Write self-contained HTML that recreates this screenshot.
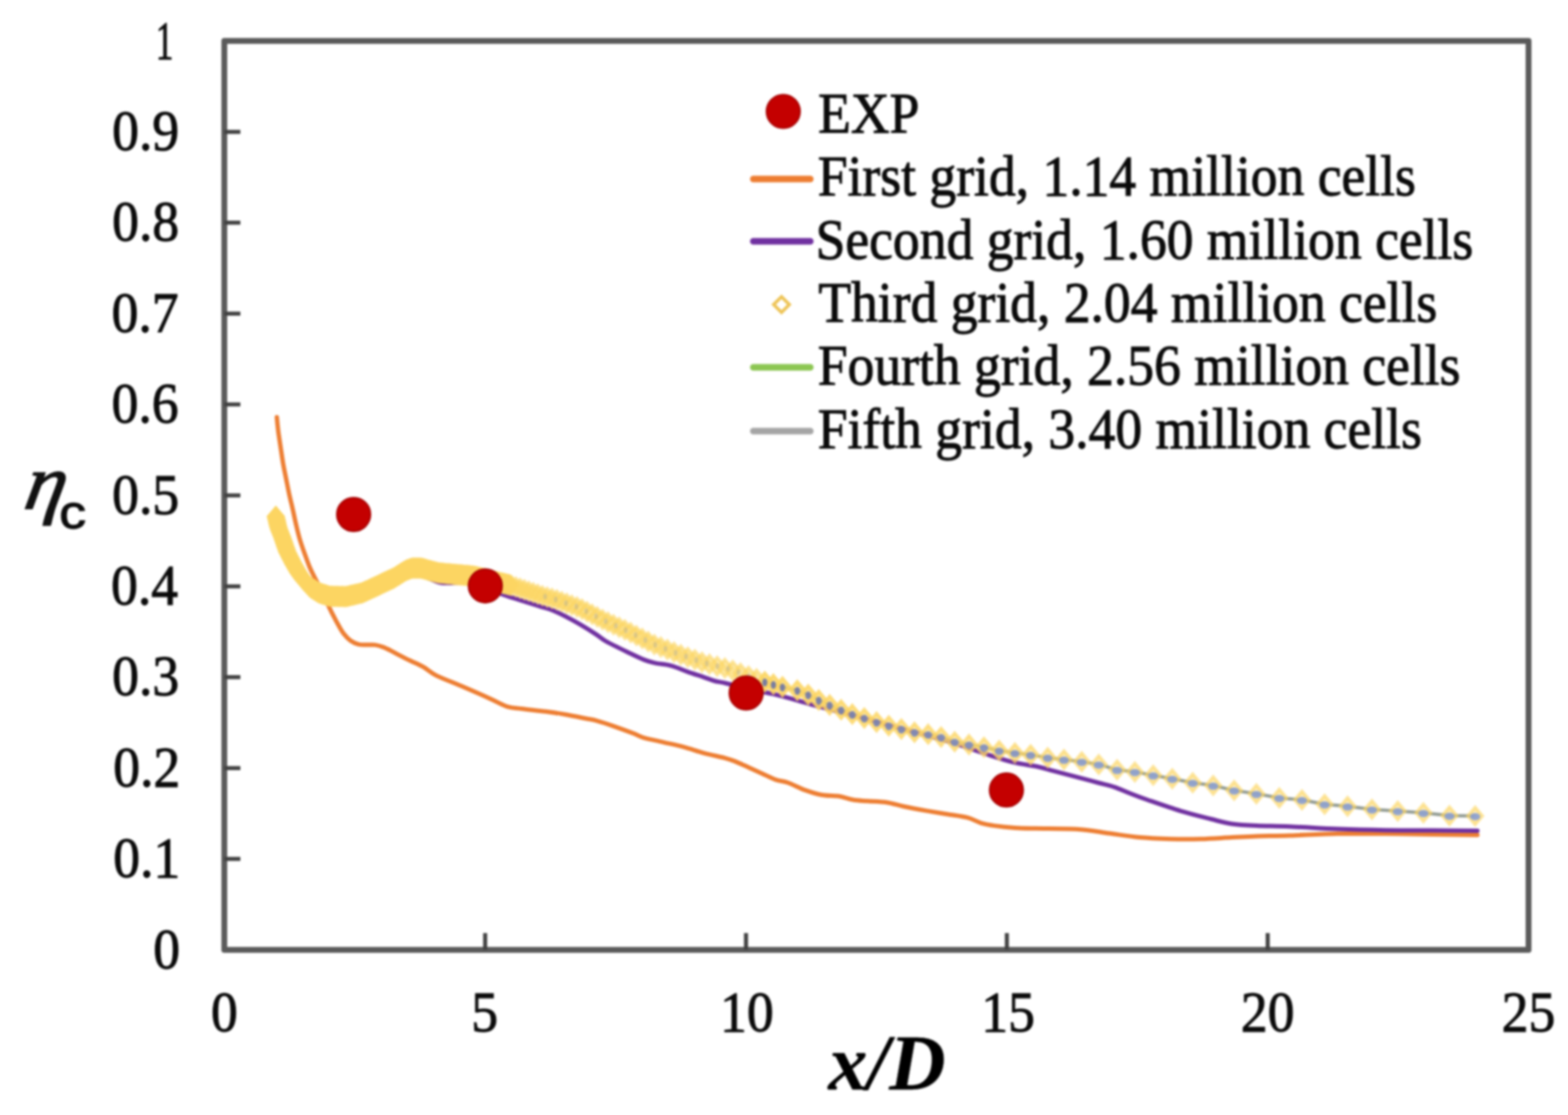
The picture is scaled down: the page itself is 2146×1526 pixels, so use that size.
<!DOCTYPE html>
<html><head><meta charset="utf-8"><title>chart</title><style>html,body{margin:0;padding:0;background:#fff}svg{display:block;filter:blur(1.8px)}</style></head><body>
<svg xmlns="http://www.w3.org/2000/svg" width="2146" height="1526" viewBox="0 0 2146 1526">
<rect width="2146" height="1526" fill="#fff"/>
<polyline points="1045.0,932.5 1080.0,942.5 1091.2,944.6 1106.1,950.6 1120.6,958.0 1135.5,964.7 1151.2,971.4 1166.5,977.4 1182.9,982.6 1199.7,988.2 1216.4,993.1 1233.6,997.6 1251.6,1002.1 1270.3,1004.9 1288.0,1008.6 1306.6,1015.1 1326.2,1018.9 1346.7,1022.6 1367.5,1027.3 1389.0,1030.5 1410.6,1033.1 1433.9,1036.9 1456.2,1039.6 1480.5,1042.4 1503.8,1046.2 1528.9,1053.6 1553.2,1056.4 1578.3,1061.1 1604.4,1065.7 1632.4,1071.3 1660.4,1075.1 1689.1,1081.8 1719.5,1086.4 1750.9,1092.0 1781.9,1094.8 1812.9,1100.8 1844.3,1103.6 1877.7,1107.8 1913.0,1110.0 1948.1,1112.4 1983.8,1116.2 2018.9,1116.8" fill="none" stroke="#939c93" stroke-width="4.5" stroke-linejoin="round"/>
<path d="M378.9 571.0C379.2 574.4 380.1 584.5 381.0 591.4C381.9 598.3 383.1 605.4 384.1 612.4C385.2 619.4 386.1 626.4 387.3 633.4C388.5 640.4 390.0 647.3 391.4 654.3C392.8 661.3 394.1 668.3 395.6 675.3C397.1 682.3 398.9 689.3 400.5 696.3C402.1 703.2 403.4 710.2 405.0 717.0C406.6 723.8 408.1 730.4 410.0 737.0C411.9 743.6 414.2 750.1 416.5 756.5C418.8 762.9 421.2 769.9 423.5 775.5C425.8 781.1 427.6 784.2 430.5 790.0C433.4 795.8 437.5 802.9 441.0 810.0C444.5 817.1 448.6 826.9 451.3 832.7C454.0 838.5 455.3 840.8 457.3 844.6C459.3 848.5 461.1 851.9 463.3 855.8C465.5 859.6 468.0 864.2 470.7 867.7C473.4 871.2 476.3 874.3 479.7 876.7C483.1 879.1 487.1 880.9 490.8 881.9C494.5 882.9 498.3 882.5 502.0 882.6C505.7 882.7 509.5 882.1 513.2 882.6C516.9 883.1 520.7 884.2 524.4 885.6C528.1 887.0 531.9 888.9 535.6 890.8C539.3 892.7 542.4 894.5 546.8 896.8C551.1 899.0 556.2 901.6 561.7 904.3C567.2 907.0 574.1 909.8 580.0 913.2C585.9 916.6 588.2 920.1 597.3 924.6C606.4 929.1 622.2 934.9 634.6 940.3C647.0 945.6 662.0 952.2 671.9 956.7C681.8 961.2 687.2 964.9 694.2 967.1C701.2 969.3 705.3 968.9 714.0 970.0C722.7 971.1 736.5 972.5 746.6 973.8C756.7 975.1 765.3 976.4 774.6 978.0C783.9 979.6 795.5 982.1 802.5 983.5C809.5 984.9 810.3 984.6 816.5 986.3C822.7 988.0 831.3 990.8 839.8 993.8C848.3 996.8 861.0 1001.4 867.7 1004.0C874.4 1006.6 873.3 1007.3 880.0 1009.3C886.7 1011.3 898.7 1013.6 908.0 1015.8C917.3 1018.0 926.6 1019.9 935.9 1022.4C945.2 1024.9 954.6 1028.3 963.9 1030.8C973.2 1033.3 984.8 1035.4 991.8 1037.3C998.8 1039.2 1000.3 1039.7 1005.8 1041.9C1011.2 1044.1 1018.3 1047.5 1024.5 1050.3C1030.7 1053.1 1036.9 1055.9 1043.1 1058.7C1049.3 1061.5 1055.8 1065.0 1061.7 1067.1C1067.6 1069.2 1071.9 1068.8 1078.6 1071.2C1085.3 1073.6 1094.1 1078.6 1101.9 1081.4C1109.7 1084.2 1117.4 1086.6 1125.2 1088.0C1133.0 1089.4 1141.5 1088.7 1148.5 1089.8C1155.5 1090.9 1161.0 1093.4 1167.2 1094.5C1173.4 1095.6 1178.0 1095.7 1185.8 1096.3C1193.6 1096.9 1205.2 1097.0 1213.8 1098.2C1222.3 1099.5 1228.1 1101.9 1237.1 1103.8C1246.1 1105.7 1258.2 1107.9 1268.0 1109.6C1277.8 1111.3 1286.6 1112.7 1295.9 1114.2C1305.2 1115.8 1316.1 1116.9 1323.9 1118.9C1331.7 1120.9 1336.3 1124.4 1342.5 1126.3C1348.7 1128.2 1353.4 1129.0 1361.2 1130.1C1369.0 1131.2 1379.8 1132.3 1389.1 1132.9C1398.4 1133.5 1402.6 1133.5 1417.1 1133.8C1431.6 1134.1 1459.1 1133.8 1475.9 1134.9C1492.7 1136.0 1503.9 1138.6 1517.9 1140.5C1531.9 1142.4 1545.8 1144.8 1559.8 1146.1C1573.8 1147.4 1587.7 1147.8 1601.7 1148.2C1615.7 1148.6 1629.7 1148.6 1643.7 1148.2C1657.7 1147.8 1672.9 1146.7 1685.6 1146.1C1698.3 1145.5 1706.7 1144.9 1720.0 1144.5C1733.3 1144.1 1746.8 1144.1 1765.2 1143.5C1783.6 1142.9 1808.8 1141.5 1830.5 1141.1C1852.2 1140.7 1874.0 1141.0 1895.7 1141.1C1917.5 1141.2 1940.0 1141.6 1961.0 1141.9C1982.0 1142.2 2011.8 1142.6 2022.0 1142.7" fill="none" stroke="#ED7D31" stroke-width="6" stroke-linejoin="round" stroke-linecap="round"/>
<path d="M540.0 793.0C545.0 791.7 559.5 784.2 570.0 785.0C580.5 785.8 591.3 795.5 603.0 797.5C614.7 799.5 629.8 795.9 640.0 797.0C650.2 798.1 655.4 801.0 664.0 804.0C672.6 807.0 679.8 810.7 691.9 814.9C704.0 819.1 725.8 825.6 736.7 829.1C747.6 832.6 749.5 832.4 757.5 835.8C765.5 839.1 774.9 844.0 784.4 849.2C793.9 854.4 806.8 862.4 814.2 867.1C821.7 871.8 821.7 873.3 829.1 877.5C836.5 881.7 850.2 888.3 858.9 892.5C867.6 896.7 875.1 900.4 881.3 902.9C887.5 905.4 890.0 906.0 896.2 907.4C902.4 908.8 911.1 909.1 918.6 911.1C926.1 913.1 933.5 916.7 941.0 919.3C948.5 921.9 957.1 924.7 963.3 926.8C969.5 928.9 973.2 930.6 978.2 932.0C983.2 933.4 986.1 933.3 993.2 935.0C1000.3 936.7 1010.3 939.5 1021.0 942.0C1031.7 944.5 1045.4 946.8 1057.5 949.7C1069.6 952.6 1084.8 956.8 1093.8 959.3C1102.8 961.8 1102.4 962.0 1111.8 964.5C1121.2 967.0 1135.3 970.6 1150.0 974.5C1164.7 978.4 1183.3 983.5 1200.0 988.0C1216.7 992.5 1233.3 996.9 1250.0 1001.5C1266.7 1006.1 1282.7 1010.2 1300.0 1015.5C1317.3 1020.8 1339.5 1028.8 1354.0 1033.5C1368.5 1038.2 1376.3 1040.8 1387.3 1043.4C1398.3 1046.0 1411.0 1047.3 1420.0 1049.2C1429.0 1051.1 1434.0 1053.0 1441.0 1054.8C1448.0 1056.6 1455.0 1058.4 1462.0 1060.3C1469.0 1062.2 1476.0 1064.0 1483.0 1065.9C1490.0 1067.8 1496.9 1069.6 1503.9 1071.5C1510.9 1073.4 1517.9 1074.8 1524.9 1077.1C1531.9 1079.4 1538.4 1082.6 1545.9 1085.5C1553.4 1088.4 1558.4 1090.5 1570.0 1094.5C1581.6 1098.5 1601.1 1105.4 1615.7 1109.8C1630.3 1114.2 1646.1 1118.0 1657.7 1121.0C1669.3 1124.0 1675.2 1126.0 1685.6 1127.5C1696.0 1129.0 1706.7 1129.5 1720.0 1130.1C1733.3 1130.7 1746.8 1130.5 1765.2 1131.3C1783.6 1132.0 1808.8 1133.8 1830.5 1134.6C1852.2 1135.4 1874.0 1135.9 1895.7 1136.2C1917.5 1136.5 1940.0 1136.4 1961.0 1136.5C1982.0 1136.6 2011.8 1136.9 2022.0 1137.0" fill="none" stroke="#7030A0" stroke-width="6" stroke-linejoin="round" stroke-linecap="round"/>
<path d="M377.5 695.2L387.5 707.0L377.5 718.8L367.5 707.0ZM378.2 698.2L388.2 709.9L378.2 721.7L368.2 709.9ZM378.9 701.1L388.9 712.8L378.9 724.6L368.9 712.8ZM379.5 704.0L389.5 715.8L379.5 727.5L369.5 715.8ZM380.2 706.9L390.2 718.7L380.2 730.4L370.2 718.7ZM380.9 709.9L390.9 721.6L380.9 733.4L370.9 721.6ZM381.9 712.7L391.9 724.4L381.9 736.2L371.9 724.4ZM383.0 715.5L393.0 727.2L383.0 739.0L373.0 727.2ZM384.1 718.3L394.1 730.0L384.1 741.8L374.1 730.0ZM385.2 721.1L395.2 732.8L385.2 744.6L375.2 732.8ZM386.3 723.9L396.3 735.6L386.3 747.4L376.3 735.6ZM387.3 726.7L397.3 738.4L387.3 750.2L377.3 738.4ZM388.3 729.5L398.3 741.3L388.3 753.0L378.3 741.3ZM389.2 732.4L399.2 744.1L389.2 755.9L379.2 744.1ZM390.2 735.2L400.2 746.9L390.2 758.7L380.2 746.9ZM391.2 738.0L401.2 749.8L391.2 761.5L381.2 749.8ZM392.2 740.9L402.2 752.6L392.2 764.4L382.2 752.6ZM393.2 743.7L403.2 755.4L393.2 767.2L383.2 755.4ZM394.6 746.4L404.6 758.1L394.6 769.9L384.6 758.1ZM395.9 749.0L405.9 760.8L395.9 772.5L385.9 760.8ZM397.3 751.7L407.3 763.5L397.3 775.2L387.3 763.5ZM398.6 754.4L408.6 766.1L398.6 777.9L388.6 766.1ZM400.0 757.1L410.0 768.8L400.0 780.6L390.0 768.8ZM401.4 759.7L411.4 771.4L401.4 783.2L391.4 771.4ZM402.9 762.3L412.9 774.1L402.9 785.8L392.9 774.1ZM404.4 764.9L414.4 776.7L404.4 788.4L394.4 776.7ZM405.9 767.5L415.9 779.3L405.9 791.0L395.9 779.3ZM407.4 770.1L417.4 781.9L407.4 793.6L397.4 781.9ZM409.0 772.6L419.0 784.4L409.0 796.1L399.0 784.4ZM410.7 775.1L420.7 786.9L410.7 798.6L400.7 786.9ZM412.4 777.6L422.4 789.3L412.4 801.1L402.4 789.3ZM414.1 780.0L424.1 791.8L414.1 803.5L404.1 791.8ZM416.0 782.4L426.0 794.1L416.0 805.9L406.0 794.1ZM418.0 784.6L428.0 796.3L418.0 808.1L408.0 796.3ZM420.0 786.8L430.0 798.5L420.0 810.3L410.0 798.5ZM422.1 789.0L432.1 800.8L422.1 812.5L412.1 800.8ZM424.1 791.2L434.1 803.0L424.1 814.7L414.1 803.0ZM426.4 793.1L436.4 804.9L426.4 816.6L416.4 804.9ZM428.9 794.7L438.9 806.5L428.9 818.2L418.9 806.5ZM431.5 796.3L441.5 808.0L431.5 819.8L421.5 808.0ZM434.0 797.9L444.0 809.6L434.0 821.4L424.0 809.6ZM436.6 799.5L446.6 811.2L436.6 823.0L426.6 811.2ZM439.4 800.5L449.4 812.2L439.4 824.0L429.4 812.2ZM442.2 801.4L452.2 813.1L442.2 824.9L432.2 813.1ZM445.1 802.3L455.1 814.0L445.1 825.8L435.1 814.0ZM448.0 803.2L458.0 814.9L448.0 826.7L438.0 814.9ZM450.8 804.1L460.8 815.8L450.8 827.6L440.8 815.8ZM453.8 804.3L463.8 816.1L453.8 827.8L443.8 816.1ZM456.8 804.4L466.8 816.1L456.8 827.9L446.8 816.1ZM459.8 804.4L469.8 816.2L459.8 827.9L449.8 816.2ZM462.8 804.5L472.8 816.3L462.8 828.0L452.8 816.3ZM465.8 804.6L475.8 816.3L465.8 828.1L455.8 816.3ZM468.8 804.6L478.8 816.4L468.8 828.1L458.8 816.4ZM471.8 804.7L481.8 816.5L471.8 828.2L461.8 816.5ZM474.8 804.5L484.8 816.3L474.8 828.0L464.8 816.3ZM477.7 803.8L487.7 815.6L477.7 827.3L467.7 815.6ZM480.6 803.1L490.6 814.9L480.6 826.6L470.6 814.9ZM483.5 802.5L493.5 814.2L483.5 826.0L473.5 814.2ZM486.4 801.8L496.4 813.5L486.4 825.3L476.4 813.5ZM489.4 801.1L499.4 812.8L489.4 824.6L479.4 812.8ZM492.3 800.4L502.3 812.2L492.3 823.9L482.3 812.2ZM495.2 799.7L505.2 811.5L495.2 823.2L485.2 811.5ZM498.0 798.6L508.0 810.4L498.0 822.1L488.0 810.4ZM500.7 797.3L510.7 809.1L500.7 820.8L490.7 809.1ZM503.4 796.1L513.4 807.8L503.4 819.6L493.4 807.8ZM506.1 794.8L516.1 806.5L506.1 818.3L496.1 806.5ZM508.8 793.5L518.8 805.3L508.8 817.0L498.8 805.3ZM511.6 792.2L521.6 804.0L511.6 815.7L501.6 804.0ZM514.3 791.0L524.3 802.7L514.3 814.5L504.3 802.7ZM517.0 789.7L527.0 801.4L517.0 813.2L507.0 801.4ZM519.7 788.4L529.7 800.1L519.7 811.9L509.7 800.1ZM522.4 787.1L532.4 798.9L522.4 810.6L512.4 798.9ZM525.1 785.8L535.1 797.6L525.1 809.3L515.1 797.6ZM527.8 784.5L537.8 796.3L527.8 808.0L517.8 796.3ZM530.5 783.2L540.5 795.0L530.5 806.7L520.5 795.0ZM533.2 782.0L543.2 793.7L533.2 805.5L523.2 793.7ZM536.0 780.7L546.0 792.4L536.0 804.2L526.0 792.4ZM538.7 779.4L548.7 791.1L538.7 802.9L528.7 791.1ZM541.3 777.9L551.3 789.7L541.3 801.4L531.3 789.7ZM543.8 776.3L553.8 788.1L543.8 799.8L533.8 788.1ZM546.4 774.7L556.4 786.5L546.4 798.2L536.4 786.5ZM548.9 773.1L558.9 784.9L548.9 796.6L538.9 784.9ZM551.4 771.5L561.4 783.3L551.4 795.0L541.4 783.3ZM554.0 769.9L564.0 781.7L554.0 793.4L544.0 781.7ZM556.6 768.6L566.6 780.4L556.6 792.1L546.6 780.4ZM559.4 767.5L569.4 779.3L559.4 791.0L549.4 779.3ZM562.2 766.4L572.2 778.2L562.2 789.9L552.2 778.2ZM565.1 765.8L575.1 777.5L565.1 789.2L555.1 777.5ZM568.1 765.8L578.1 777.5L568.1 789.2L558.1 777.5ZM571.1 765.8L581.1 777.5L571.1 789.2L561.1 777.5ZM574.1 765.8L584.1 777.5L574.1 789.2L564.1 777.5ZM577.1 766.0L587.1 777.8L577.1 789.5L567.1 777.8ZM580.0 766.8L590.0 778.6L580.0 790.3L570.0 778.6ZM582.9 767.6L592.9 779.4L582.9 791.1L572.9 779.4ZM585.8 768.4L595.8 780.1L585.8 791.9L575.8 780.1ZM588.7 769.2L598.7 780.9L588.7 792.7L578.7 780.9ZM591.5 770.0L601.5 781.7L591.5 793.5L581.5 781.7ZM594.4 770.7L604.4 782.5L594.4 794.2L584.4 782.5ZM597.3 771.5L607.3 783.3L597.3 795.0L587.3 783.3ZM600.2 772.3L610.2 784.0L600.2 795.8L590.2 784.0ZM603.2 772.5L613.2 784.3L603.2 796.0L593.2 784.3ZM606.2 772.8L616.2 784.6L606.2 796.3L596.2 784.6ZM609.2 773.1L619.2 784.8L609.2 796.6L599.2 784.8ZM612.2 773.4L622.2 785.1L612.2 796.9L602.2 785.1ZM615.2 773.6L625.2 785.4L615.2 797.1L605.2 785.4ZM618.2 773.9L628.2 785.7L618.2 797.4L608.2 785.7ZM621.2 774.2L631.2 785.9L621.2 797.7L611.2 785.9ZM624.1 774.5L634.1 786.2L624.1 798.0L614.1 786.2ZM627.1 774.7L637.1 786.5L627.1 798.2L617.1 786.5ZM630.1 775.0L640.1 786.8L630.1 798.5L620.1 786.8ZM633.1 775.3L643.1 787.0L633.1 798.8L623.1 787.0ZM636.1 775.6L646.1 787.3L636.1 799.1L626.1 787.3ZM639.1 775.8L649.1 787.6L639.1 799.3L629.1 787.6ZM642.1 776.1L652.1 787.9L642.1 799.6L632.1 787.9ZM645.1 776.4L655.1 788.1L645.1 799.9L635.1 788.1ZM648.0 776.7L658.0 788.4L648.0 800.2L638.0 788.4ZM651.0 777.2L661.0 789.0L651.0 800.7L641.0 789.0ZM653.9 778.0L663.9 789.7L653.9 801.5L643.9 789.7ZM656.8 778.7L666.8 790.4L656.8 802.2L646.8 790.4ZM659.7 779.4L669.7 791.2L659.7 802.9L649.7 791.2ZM662.6 780.1L672.6 791.9L662.6 803.6L652.6 791.9ZM665.5 780.8L675.5 792.6L665.5 804.3L655.5 792.6ZM668.5 781.6L678.5 793.3L668.5 805.1L658.5 793.3ZM671.4 782.3L681.4 794.0L671.4 805.8L661.4 794.0ZM674.3 783.0L684.3 794.8L674.3 806.5L664.3 794.8ZM677.2 783.7L687.2 795.5L677.2 807.2L667.2 795.5ZM680.1 784.4L690.1 796.2L680.1 807.9L670.1 796.2ZM683.0 785.2L693.0 796.9L683.0 808.7L673.0 796.9ZM685.9 785.9L695.9 797.6L685.9 809.4L675.9 797.6ZM688.8 786.6L698.8 798.4L688.8 810.1L678.8 798.4ZM691.7 787.3L701.7 799.1L691.7 810.8L681.7 799.1ZM694.7 788.0L704.7 799.8L694.7 811.5L684.7 799.8ZM697.6 788.8L707.6 800.5L697.6 812.3L687.6 800.5Z" fill="#FCD562" stroke="#FCD562" stroke-width="4.5"/>
<g fill="#FCD562" fill-opacity="0.5" stroke="#FCD562" stroke-width="4.5" stroke-opacity="0.6"><path d="M700.4 789.7L710.4 801.5L700.4 813.2L690.4 801.5Z"/><path d="M706.1 791.6L716.1 803.3L706.1 815.1L696.1 803.3Z"/><path d="M711.9 793.5L721.9 805.3L711.9 817.0L701.9 805.3Z"/><path d="M717.8 795.5L727.8 807.2L717.8 819.0L707.8 807.2Z"/><path d="M723.8 797.4L733.8 809.2L723.8 820.9L713.8 809.2Z"/><path d="M729.9 799.4L739.9 811.2L729.9 822.9L719.9 811.2Z"/><path d="M736.1 801.5L746.1 813.2L736.1 825.0L726.1 813.2Z"/><path d="M742.4 803.6L752.4 815.3L742.4 827.1L732.4 815.3Z"/><path d="M748.9 805.5L758.9 817.3L748.9 829.0L738.9 817.3Z"/><path d="M755.5 807.3L765.5 819.0L755.5 830.8L745.5 819.0Z"/><path d="M762.2 809.2L772.2 821.0L762.2 832.7L752.2 821.0Z"/><path d="M768.9 811.6L778.9 823.3L768.9 835.1L758.9 823.3Z"/><path d="M775.7 814.0L785.7 825.7L775.7 837.5L765.7 825.7Z"/><path d="M782.6 816.4L792.6 828.2L782.6 839.9L772.6 828.2Z"/><path d="M789.7 818.9L799.7 830.6L789.7 842.4L779.7 830.6Z"/><path d="M796.6 821.9L806.6 833.6L796.6 845.4L786.6 833.6Z"/><path d="M803.5 825.4L813.5 837.1L803.5 848.9L793.5 837.1Z"/><path d="M810.4 829.0L820.4 840.7L810.4 852.5L800.4 840.7Z"/><path d="M817.5 832.6L827.5 844.4L817.5 856.1L807.5 844.4Z"/><path d="M824.7 836.3L834.7 848.1L824.7 859.8L814.7 848.1Z"/><path d="M832.1 839.8L842.1 851.6L832.1 863.3L822.1 851.6Z"/><path d="M839.7 843.3L849.7 855.0L839.7 866.8L829.7 855.0Z"/><path d="M847.4 846.8L857.4 858.5L847.4 870.3L837.4 858.5Z"/><path d="M855.2 850.3L865.2 862.1L855.2 873.8L845.2 862.1Z"/><path d="M863.1 854.0L873.1 865.8L863.1 877.5L853.1 865.8Z"/><path d="M871.0 858.1L881.0 869.8L871.0 881.6L861.0 869.8Z"/><path d="M879.1 862.1L889.1 873.9L879.1 885.6L869.1 873.9Z"/><path d="M887.2 866.3L897.2 878.1L887.2 889.8L877.2 878.1Z"/><path d="M895.6 870.4L905.6 882.1L895.6 893.9L885.6 882.1Z"/><path d="M904.4 873.8L914.4 885.5L904.4 897.3L894.4 885.5Z"/><path d="M913.4 877.2L923.4 889.0L913.4 900.7L903.4 889.0Z"/><path d="M922.5 880.7L932.5 892.5L922.5 904.2L912.5 892.5Z"/><path d="M931.8 884.2L941.8 895.9L931.8 907.7L921.8 895.9Z"/><path d="M941.3 887.6L951.3 899.3L941.3 911.1L931.3 899.3Z"/><path d="M951.0 891.0L961.0 902.7L951.0 914.5L941.0 902.7Z"/><path d="M960.8 894.5L970.8 906.2L960.8 918.0L950.8 906.2Z"/><path d="M971.0 897.2L981.0 908.9L971.0 920.7L961.0 908.9Z"/><path d="M981.5 899.9L991.5 911.6L981.5 923.4L971.5 911.6Z"/><path d="M992.1 902.6L1002.1 914.4L992.1 926.1L982.1 914.4Z"/><path d="M1002.8 905.7L1012.8 917.4L1002.8 929.2L992.8 917.4Z"/><path d="M1013.5 909.5L1023.5 921.2L1013.5 933.0L1003.5 921.2Z"/><path d="M1024.4 913.4L1034.4 925.1L1024.4 936.9L1014.4 925.1Z"/><path d="M1035.4 917.3L1045.4 929.1L1035.4 940.8L1025.4 929.1Z"/></g>
<g fill="#FCD562" stroke="#FCD562" stroke-width="4.5"><path d="M1046.7 921.2L1056.7 933.0L1046.7 944.7L1036.7 933.0Z" fill-opacity="0.75" stroke-opacity="0.85"/><path d="M1058.5 924.6L1068.5 936.4L1058.5 948.1L1048.5 936.4Z" fill-opacity="0.74" stroke-opacity="0.84"/><path d="M1070.9 928.2L1080.9 939.9L1070.9 951.7L1060.9 939.9Z" fill-opacity="0.73" stroke-opacity="0.83"/><path d="M1091.2 932.9L1101.2 944.6L1091.2 956.4L1081.2 944.6Z" fill-opacity="0.72" stroke-opacity="0.82"/><path d="M1106.1 938.9L1116.1 950.6L1106.1 962.4L1096.1 950.6Z" fill-opacity="0.71" stroke-opacity="0.81"/><path d="M1120.6 946.2L1130.6 958.0L1120.6 969.8L1110.6 958.0Z" fill-opacity="0.70" stroke-opacity="0.81"/><path d="M1135.5 953.0L1145.5 964.7L1135.5 976.5L1125.5 964.7Z" fill-opacity="0.69" stroke-opacity="0.80"/><path d="M1151.2 959.6L1161.2 971.4L1151.2 983.1L1141.2 971.4Z" fill-opacity="0.68" stroke-opacity="0.79"/><path d="M1166.5 965.6L1176.5 977.4L1166.5 989.1L1156.5 977.4Z" fill-opacity="0.67" stroke-opacity="0.78"/><path d="M1182.9 970.9L1192.9 982.6L1182.9 994.4L1172.9 982.6Z" fill-opacity="0.66" stroke-opacity="0.77"/><path d="M1199.7 976.5L1209.7 988.2L1199.7 1000.0L1189.7 988.2Z" fill-opacity="0.65" stroke-opacity="0.76"/><path d="M1216.4 981.4L1226.4 993.1L1216.4 1004.9L1206.4 993.1Z" fill-opacity="0.63" stroke-opacity="0.75"/><path d="M1233.6 985.9L1243.6 997.6L1233.6 1009.4L1223.6 997.6Z" fill-opacity="0.62" stroke-opacity="0.74"/><path d="M1251.6 990.4L1261.6 1002.1L1251.6 1013.9L1241.6 1002.1Z" fill-opacity="0.61" stroke-opacity="0.73"/><path d="M1270.3 993.1L1280.3 1004.9L1270.3 1016.6L1260.3 1004.9Z" fill-opacity="0.60" stroke-opacity="0.72"/><path d="M1288.0 996.9L1298.0 1008.6L1288.0 1020.4L1278.0 1008.6Z" fill-opacity="0.59" stroke-opacity="0.72"/><path d="M1306.6 1003.4L1316.6 1015.1L1306.6 1026.8L1296.6 1015.1Z" fill-opacity="0.58" stroke-opacity="0.71"/><path d="M1326.2 1007.1L1336.2 1018.9L1326.2 1030.7L1316.2 1018.9Z" fill-opacity="0.56" stroke-opacity="0.69"/><path d="M1346.7 1010.9L1356.7 1022.6L1346.7 1034.3L1336.7 1022.6Z" fill-opacity="0.55" stroke-opacity="0.68"/><path d="M1367.5 1015.5L1377.5 1027.3L1367.5 1039.0L1357.5 1027.3Z" fill-opacity="0.54" stroke-opacity="0.67"/><path d="M1389.0 1018.8L1399.0 1030.5L1389.0 1042.2L1379.0 1030.5Z" fill-opacity="0.52" stroke-opacity="0.66"/><path d="M1410.6 1021.3L1420.6 1033.1L1410.6 1044.8L1400.6 1033.1Z" fill-opacity="0.51" stroke-opacity="0.65"/><path d="M1433.9 1025.2L1443.9 1036.9L1433.9 1048.7L1423.9 1036.9Z" fill-opacity="0.49" stroke-opacity="0.64"/><path d="M1456.2 1027.8L1466.2 1039.6L1456.2 1051.3L1446.2 1039.6Z" fill-opacity="0.48" stroke-opacity="0.62"/><path d="M1480.5 1030.7L1490.5 1042.4L1480.5 1054.2L1470.5 1042.4Z" fill-opacity="0.46" stroke-opacity="0.61"/><path d="M1503.8 1034.5L1513.8 1046.2L1503.8 1058.0L1493.8 1046.2Z" fill-opacity="0.45" stroke-opacity="0.60"/><path d="M1528.9 1041.8L1538.9 1053.6L1528.9 1065.3L1518.9 1053.6Z" fill-opacity="0.45" stroke-opacity="0.60"/><path d="M1553.2 1044.7L1563.2 1056.4L1553.2 1068.2L1543.2 1056.4Z" fill-opacity="0.45" stroke-opacity="0.60"/><path d="M1578.3 1049.3L1588.3 1061.1L1578.3 1072.8L1568.3 1061.1Z" fill-opacity="0.45" stroke-opacity="0.60"/><path d="M1604.4 1054.0L1614.4 1065.7L1604.4 1077.5L1594.4 1065.7Z" fill-opacity="0.45" stroke-opacity="0.60"/><path d="M1632.4 1059.5L1642.4 1071.3L1632.4 1083.0L1622.4 1071.3Z" fill-opacity="0.45" stroke-opacity="0.60"/><path d="M1660.4 1063.3L1670.4 1075.1L1660.4 1086.8L1650.4 1075.1Z" fill-opacity="0.45" stroke-opacity="0.60"/><path d="M1689.1 1070.0L1699.1 1081.8L1689.1 1093.5L1679.1 1081.8Z" fill-opacity="0.45" stroke-opacity="0.60"/><path d="M1719.5 1074.7L1729.5 1086.4L1719.5 1098.2L1709.5 1086.4Z" fill-opacity="0.45" stroke-opacity="0.60"/><path d="M1750.9 1080.2L1760.9 1092.0L1750.9 1103.8L1740.9 1092.0Z" fill-opacity="0.45" stroke-opacity="0.60"/><path d="M1781.9 1083.0L1791.9 1094.8L1781.9 1106.5L1771.9 1094.8Z" fill-opacity="0.45" stroke-opacity="0.60"/><path d="M1812.9 1089.0L1822.9 1100.8L1812.9 1112.5L1802.9 1100.8Z" fill-opacity="0.45" stroke-opacity="0.60"/><path d="M1844.3 1091.8L1854.3 1103.6L1844.3 1115.3L1834.3 1103.6Z" fill-opacity="0.45" stroke-opacity="0.60"/><path d="M1877.7 1096.0L1887.7 1107.8L1877.7 1119.5L1867.7 1107.8Z" fill-opacity="0.45" stroke-opacity="0.60"/><path d="M1913.0 1098.2L1923.0 1110.0L1913.0 1121.8L1903.0 1110.0Z" fill-opacity="0.45" stroke-opacity="0.60"/><path d="M1948.1 1100.7L1958.1 1112.4L1948.1 1124.2L1938.1 1112.4Z" fill-opacity="0.45" stroke-opacity="0.60"/><path d="M1983.8 1104.5L1993.8 1116.2L1983.8 1128.0L1973.8 1116.2Z" fill-opacity="0.45" stroke-opacity="0.60"/><path d="M2018.9 1105.0L2028.9 1116.8L2018.9 1128.5L2008.9 1116.8Z" fill-opacity="0.45" stroke-opacity="0.60"/></g>
<g fill="#9aa0a8" fill-opacity="0.35"><ellipse cx="746.0" cy="816.5" rx="2.5" ry="4"/><ellipse cx="760.5" cy="820.4" rx="2.5" ry="4"/><ellipse cx="774.6" cy="825.4" rx="2.5" ry="4"/><ellipse cx="788.8" cy="830.3" rx="2.5" ry="4"/><ellipse cx="802.4" cy="836.6" rx="2.5" ry="4"/><ellipse cx="815.7" cy="843.5" rx="2.5" ry="4"/><ellipse cx="829.1" cy="850.2" rx="2.5" ry="4"/><ellipse cx="842.8" cy="856.4" rx="2.5" ry="4"/><ellipse cx="856.4" cy="862.6" rx="2.5" ry="4"/><ellipse cx="869.9" cy="869.2" rx="2.5" ry="4"/><ellipse cx="883.3" cy="876.0" rx="2.5" ry="4"/><ellipse cx="896.7" cy="882.6" rx="2.5" ry="4"/><ellipse cx="910.7" cy="888.0" rx="2.5" ry="4"/><ellipse cx="924.7" cy="893.4" rx="2.5" ry="4"/><ellipse cx="938.8" cy="898.4" rx="2.5" ry="4"/><ellipse cx="953.0" cy="903.5" rx="2.5" ry="4"/><ellipse cx="967.3" cy="907.9" rx="2.5" ry="4"/><ellipse cx="981.8" cy="911.7" rx="2.5" ry="4"/><ellipse cx="996.3" cy="915.4" rx="2.5" ry="4"/><ellipse cx="1010.6" cy="920.2" rx="2.5" ry="4"/><ellipse cx="1024.7" cy="925.2" rx="2.5" ry="4"/></g>
<g fill-opacity="0.9"><ellipse cx="1046.7" cy="934.0" rx="3.6" ry="5.5" fill="#6c73a3"/><ellipse cx="1058.5" cy="937.4" rx="3.6" ry="5.5" fill="#6d74a4"/><ellipse cx="1070.9" cy="940.9" rx="3.7" ry="5.5" fill="#6e75a5"/><ellipse cx="1091.2" cy="945.6" rx="3.9" ry="5.4" fill="#6f77a7"/><ellipse cx="1106.1" cy="951.6" rx="4.0" ry="5.4" fill="#7078a9"/><ellipse cx="1120.6" cy="959.0" rx="4.1" ry="5.4" fill="#717aaa"/><ellipse cx="1135.5" cy="965.7" rx="4.2" ry="5.4" fill="#727bac"/><ellipse cx="1151.2" cy="972.4" rx="4.3" ry="5.4" fill="#737dad"/><ellipse cx="1166.5" cy="978.4" rx="4.5" ry="5.4" fill="#747eaf"/><ellipse cx="1182.9" cy="983.6" rx="4.6" ry="5.3" fill="#7580b0"/><ellipse cx="1199.7" cy="989.2" rx="4.7" ry="5.3" fill="#7681b2"/><ellipse cx="1216.4" cy="994.1" rx="4.8" ry="5.3" fill="#7883b4"/><ellipse cx="1233.6" cy="998.6" rx="5.0" ry="5.3" fill="#7985b5"/><ellipse cx="1251.6" cy="1003.1" rx="5.1" ry="5.3" fill="#7a86b7"/><ellipse cx="1270.3" cy="1005.9" rx="5.3" ry="5.2" fill="#7b88b9"/><ellipse cx="1288.0" cy="1009.6" rx="5.4" ry="5.2" fill="#7c8abb"/><ellipse cx="1306.6" cy="1016.1" rx="5.5" ry="5.2" fill="#7d8cbd"/><ellipse cx="1326.2" cy="1019.9" rx="5.7" ry="5.2" fill="#7f8dbf"/><ellipse cx="1346.7" cy="1023.6" rx="5.8" ry="5.2" fill="#808fc1"/><ellipse cx="1367.5" cy="1028.3" rx="6.0" ry="5.1" fill="#8191c3"/><ellipse cx="1389.0" cy="1031.5" rx="6.2" ry="5.1" fill="#8393c5"/><ellipse cx="1410.6" cy="1034.1" rx="6.3" ry="5.1" fill="#8495c7"/><ellipse cx="1433.9" cy="1037.9" rx="6.5" ry="5.1" fill="#8698c9"/><ellipse cx="1456.2" cy="1040.6" rx="6.7" ry="5.0" fill="#879acc"/><ellipse cx="1480.5" cy="1043.4" rx="6.9" ry="5.0" fill="#899cce"/><ellipse cx="1503.8" cy="1047.2" rx="7.0" ry="5.0" fill="#8a9ed0"/><ellipse cx="1528.9" cy="1054.6" rx="7.0" ry="5.0" fill="#8a9ed0"/><ellipse cx="1553.2" cy="1057.4" rx="7.0" ry="5.0" fill="#8a9ed0"/><ellipse cx="1578.3" cy="1062.1" rx="7.0" ry="5.0" fill="#8a9ed0"/><ellipse cx="1604.4" cy="1066.7" rx="7.0" ry="5.0" fill="#8a9ed0"/><ellipse cx="1632.4" cy="1072.3" rx="7.0" ry="5.0" fill="#8a9ed0"/><ellipse cx="1660.4" cy="1076.1" rx="7.0" ry="5.0" fill="#8a9ed0"/><ellipse cx="1689.1" cy="1082.8" rx="7.0" ry="5.0" fill="#8a9ed0"/><ellipse cx="1719.5" cy="1087.4" rx="7.0" ry="5.0" fill="#8a9ed0"/><ellipse cx="1750.9" cy="1093.0" rx="7.0" ry="5.0" fill="#8a9ed0"/><ellipse cx="1781.9" cy="1095.8" rx="7.0" ry="5.0" fill="#8a9ed0"/><ellipse cx="1812.9" cy="1101.8" rx="7.0" ry="5.0" fill="#8a9ed0"/><ellipse cx="1844.3" cy="1104.6" rx="7.0" ry="5.0" fill="#8a9ed0"/><ellipse cx="1877.7" cy="1108.8" rx="7.0" ry="5.0" fill="#8a9ed0"/><ellipse cx="1913.0" cy="1111.0" rx="7.0" ry="5.0" fill="#8a9ed0"/><ellipse cx="1948.1" cy="1113.4" rx="7.0" ry="5.0" fill="#8a9ed0"/><ellipse cx="1983.8" cy="1117.2" rx="7.0" ry="5.0" fill="#8a9ed0"/><ellipse cx="2018.9" cy="1117.8" rx="7.0" ry="5.0" fill="#8a9ed0"/></g>
<circle cx="484" cy="704.1" r="23" fill="#C40000" stroke="#A80000" stroke-width="2.2"/>
<circle cx="664.2" cy="801.8" r="23" fill="#C40000" stroke="#A80000" stroke-width="2.2"/>
<circle cx="1021.2" cy="948.4" r="23" fill="#C40000" stroke="#A80000" stroke-width="2.2"/>
<circle cx="1377.4" cy="1081.2" r="23" fill="#C40000" stroke="#A80000" stroke-width="2.2"/>
<rect x="307.0" y="56.0" width="1785.0" height="1244.0" fill="none" stroke="#5a5a5a" stroke-width="8" stroke-linejoin="round"/>
<path d="M307.0 1175.6H329.0M307.0 1051.2H329.0M307.0 926.8H329.0M307.0 802.4H329.0M307.0 678.0H329.0M307.0 553.6H329.0M307.0 429.2H329.0M307.0 304.8H329.0M307.0 180.4H329.0M664.0 1300.0V1277.0M1021.0 1300.0V1277.0M1378.0 1300.0V1277.0M1735.0 1300.0V1277.0" stroke="#404040" stroke-width="5.5"/>
<circle cx="1072" cy="152.5" r="23" fill="#C40000" stroke="#A80000" stroke-width="2.2"/>
<line x1="1031" y1="245.0" x2="1109" y2="245.0" stroke="#ED7D31" stroke-width="9" stroke-linecap="round"/>
<line x1="1031" y1="330.3" x2="1109" y2="330.3" stroke="#7030A0" stroke-width="9" stroke-linecap="round"/>
<path d="M1069.6 406.1L1080.3 416.8L1069.6 427.6L1058.8 416.8Z" fill="#fff" stroke="#EEC457" stroke-width="4.5"/>
<line x1="1031" y1="502.8" x2="1109" y2="502.8" stroke="#8CC652" stroke-width="9" stroke-linecap="round"/>
<line x1="1031" y1="590.0" x2="1109" y2="590.0" stroke="#A5A5A5" stroke-width="9" stroke-linecap="round"/>
<text transform="translate(213.28,80.80) scale(0.64,1)" font-family="'Liberation Serif',serif" font-size="75" fill="#0a0a0a" stroke="#0a0a0a" stroke-width="1.3">1</text>
<text transform="translate(153.58,204.90) scale(0.94,1)" font-family="'Liberation Serif',serif" font-size="78.0" fill="#0a0a0a" stroke="#0a0a0a" stroke-width="1.3">0.9</text>
<text transform="translate(153.58,329.30) scale(0.94,1)" font-family="'Liberation Serif',serif" font-size="78.0" fill="#0a0a0a" stroke="#0a0a0a" stroke-width="1.3">0.8</text>
<text transform="translate(152.85,453.70) scale(0.94,1)" font-family="'Liberation Serif',serif" font-size="78.0" fill="#0a0a0a" stroke="#0a0a0a" stroke-width="1.3">0.7</text>
<text transform="translate(152.85,578.10) scale(0.94,1)" font-family="'Liberation Serif',serif" font-size="78.0" fill="#0a0a0a" stroke="#0a0a0a" stroke-width="1.3">0.6</text>
<text transform="translate(153.58,702.50) scale(0.94,1)" font-family="'Liberation Serif',serif" font-size="78.0" fill="#0a0a0a" stroke="#0a0a0a" stroke-width="1.3">0.5</text>
<text transform="translate(152.12,826.90) scale(0.94,1)" font-family="'Liberation Serif',serif" font-size="78.0" fill="#0a0a0a" stroke="#0a0a0a" stroke-width="1.3">0.4</text>
<text transform="translate(153.58,951.30) scale(0.94,1)" font-family="'Liberation Serif',serif" font-size="78.0" fill="#0a0a0a" stroke="#0a0a0a" stroke-width="1.3">0.3</text>
<text transform="translate(155.05,1075.70) scale(0.94,1)" font-family="'Liberation Serif',serif" font-size="78.0" fill="#0a0a0a" stroke="#0a0a0a" stroke-width="1.3">0.2</text>
<text transform="translate(155.05,1200.10) scale(0.94,1)" font-family="'Liberation Serif',serif" font-size="78.0" fill="#0a0a0a" stroke="#0a0a0a" stroke-width="1.3">0.1</text>
<text transform="translate(209.87,1324.50) scale(0.94,1)" font-family="'Liberation Serif',serif" font-size="78.0" fill="#0a0a0a" stroke="#0a0a0a" stroke-width="1.3">0</text>
<text transform="translate(288.67,1411.00) scale(0.94,1)" font-family="'Liberation Serif',serif" font-size="78.0" fill="#0a0a0a" stroke="#0a0a0a" stroke-width="1.3">0</text>
<text transform="translate(644.94,1411.00) scale(0.94,1)" font-family="'Liberation Serif',serif" font-size="78.0" fill="#0a0a0a" stroke="#0a0a0a" stroke-width="1.3">5</text>
<text transform="translate(985.51,1411.00) scale(0.94,1)" font-family="'Liberation Serif',serif" font-size="78.0" fill="#0a0a0a" stroke="#0a0a0a" stroke-width="1.3">10</text>
<text transform="translate(1343.01,1411.00) scale(0.94,1)" font-family="'Liberation Serif',serif" font-size="78.0" fill="#0a0a0a" stroke="#0a0a0a" stroke-width="1.3">15</text>
<text transform="translate(1698.34,1411.00) scale(0.94,1)" font-family="'Liberation Serif',serif" font-size="78.0" fill="#0a0a0a" stroke="#0a0a0a" stroke-width="1.3">20</text>
<text transform="translate(2055.34,1411.00) scale(0.94,1)" font-family="'Liberation Serif',serif" font-size="78.0" fill="#0a0a0a" stroke="#0a0a0a" stroke-width="1.3">25</text>
<text transform="translate(1119.70,180.80) scale(0.94,1)" font-family="'Liberation Serif',serif" font-size="78.0" fill="#0a0a0a" stroke="#0a0a0a" stroke-width="1.3">EXP</text>
<text transform="translate(1119.20,267.20) scale(0.94,1)" font-family="'Liberation Serif',serif" font-size="78.0" fill="#0a0a0a" stroke="#0a0a0a" stroke-width="1.3">First grid, 1.14 million cells</text>
<text transform="translate(1116.27,353.60) scale(0.94,1)" font-family="'Liberation Serif',serif" font-size="78.0" fill="#0a0a0a" stroke="#0a0a0a" stroke-width="1.3">Second grid, 1.60 million cells</text>
<text transform="translate(1119.93,440.00) scale(0.94,1)" font-family="'Liberation Serif',serif" font-size="78.0" fill="#0a0a0a" stroke="#0a0a0a" stroke-width="1.3">Third grid, 2.04 million cells</text>
<text transform="translate(1119.20,526.40) scale(0.94,1)" font-family="'Liberation Serif',serif" font-size="78.0" fill="#0a0a0a" stroke="#0a0a0a" stroke-width="1.3">Fourth grid, 2.56 million cells</text>
<text transform="translate(1119.20,612.80) scale(0.94,1)" font-family="'Liberation Serif',serif" font-size="78.0" fill="#0a0a0a" stroke="#0a0a0a" stroke-width="1.3">Fifth grid, 3.40 million cells</text>
<text transform="translate(31.05,696.00) scale(1.05,1) skewX(-10)" font-family="'Liberation Serif',serif" font-size="106" font-style="italic" fill="#111" stroke="#111" stroke-width="2.0">η</text>
<text transform="translate(80.96,723.00) scale(1.15,1)" font-family="'Liberation Sans',Arial,sans-serif" font-size="64" fill="#0a0a0a" stroke="#0a0a0a" stroke-width="1.3">c</text>
<text transform="translate(1133.87,1491.00) scale(0.98,1)" font-family="'Liberation Serif',serif" font-size="109" font-style="italic" font-weight="bold" fill="#000" stroke="#000" stroke-width="0.3">x/D</text>
</svg>
</body></html>
